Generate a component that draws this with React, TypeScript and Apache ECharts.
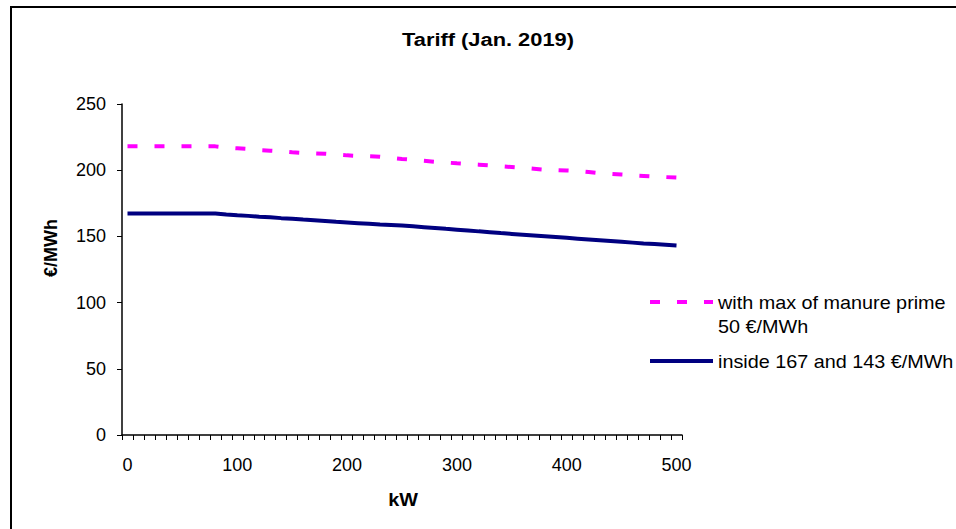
import React, { useEffect, useRef } from "react";
import * as echarts from "echarts";

const categories = [
  "0", "10", "20", "30", "40", "50", "60", "70", "80", "90",
  "100", "110", "120", "130", "140", "150", "160", "170", "180", "190",
  "200", "210", "220", "230", "240", "250", "260", "270", "280", "290",
  "300", "310", "320", "330", "340", "350", "360", "370", "380", "390",
  "400", "410", "420", "430", "440", "450", "460", "470", "480", "490",
  "500",
];

const manurePrime = [
  218, 218, 218, 218, 218, 218, 218, 218, 218,
  217, 216.5, 216, 215.2, 214.7, 214.2, 213.5, 213, 212.7, 212.4,
  211.8, 211.2, 210.8, 210.5, 210.2, 209.3, 208.5, 207.8, 207.1, 206.4,
  205.8, 205.2, 204.7, 204.2, 203.6, 203.0, 202.4, 201.8, 201.1, 200.4,
  200.1, 199.8, 199.4, 198.6, 197.8, 197.2, 196.7, 196.2, 195.7, 195.2,
  194.8, 194.4,
];

const inside = [
  167.3, 167.3, 167.3, 167.3, 167.3, 167.3, 167.3, 167.3, 167.3,
  166.6, 166.0, 165.5, 164.9, 164.4, 163.8, 163.3, 162.7, 162.2, 161.6,
  161.0, 160.5, 160.0, 159.5, 159.0, 158.6, 158.2, 157.6, 157.0, 156.4,
  155.7, 155.1, 154.5, 153.8, 153.2, 152.5, 151.9, 151.3, 150.7, 150.1,
  149.5, 148.9, 148.3, 147.7, 147.1, 146.5, 145.9, 145.3, 144.7, 144.2,
  143.7, 143.2,
];

const titleText = "Tariff (Jan. 2019)";
const xName = "kW";
const yName = "€/MWh";
const legendManure = ["with max of manure prime", "50 €/MWh"];
const legendInside = "inside 167 and 143 €/MWh";

const FONT = "'Liberation Sans', Arial, sans-serif";
const MAGENTA = "#FF00FF";
const NAVY = "#000080";

export default function App() {
  const ref = useRef<HTMLDivElement>(null);

  useEffect(() => {
    if (!ref.current) return;
    const chart = echarts.init(ref.current, undefined, { renderer: "svg" });

    const txt = (
      text: string,
      x: number,
      y: number,
      opts: any = {}
    ) => ({
      type: "text",
      x,
      y,
      rotation: opts.rotation || 0,
      scaleX: opts.scaleX || 1,
      silent: true,
      style: {
        text,
        fill: "#000",
        fontFamily: FONT,
        fontSize: opts.fontSize || 18,
        fontWeight: opts.bold ? "bold" : "normal",
        align: opts.align || "left",
        textAlign: opts.align || "left",
        verticalAlign: "middle",
        textVerticalAlign: "middle",
      },
    });

    chart.setOption({
      animation: false,
      backgroundColor: "#fff",
      grid: { left: 122, top: 104, width: 560, height: 331, containLabel: false },
      xAxis: {
        type: "category",
        data: categories,
        boundaryGap: true,
        axisLine: { show: true, lineStyle: { color: "#000", width: 1.5 } },
        axisTick: { show: true, interval: 0, length: 5, lineStyle: { color: "#000", width: 1 } },
        axisLabel: {
          interval: 9,
          color: "#000",
          fontFamily: FONT,
          fontSize: 18,
          margin: 21,
        },
        splitLine: { show: false },
      },
      yAxis: {
        type: "value",
        min: 0,
        max: 250,
        interval: 50,
        axisLine: { show: true, lineStyle: { color: "#000", width: 1.5 } },
        axisTick: { show: true, length: 5, lineStyle: { color: "#000", width: 1 } },
        axisLabel: { color: "#000", fontFamily: FONT, fontSize: 18, margin: 16 },
        splitLine: { show: false },
      },
      series: [
        {
          name: legendManure.join(" "),
          type: "line",
          data: manurePrime,
          symbol: "none",
          lineStyle: { color: MAGENTA, width: 4, type: [10, 17], cap: "butt" },
        },
        {
          name: legendInside,
          type: "line",
          data: inside,
          symbol: "none",
          lineStyle: { color: NAVY, width: 4, type: "solid" },
        },
      ],
      graphic: [
        {
          type: "rect",
          silent: true,
          z: -10,
          shape: { x: 11, y: 7, width: 1000, height: 600 },
          style: { fill: "none", stroke: "#000", lineWidth: 2 },
        },
        txt(titleText, 488, 39, { bold: true, fontSize: 19, align: "center", scaleX: 1.15 }),
        txt(xName, 403, 500, { bold: true, fontSize: 18, align: "center", scaleX: 1.1 }),
        txt(yName, 51, 248, { bold: true, fontSize: 18, align: "center", rotation: Math.PI / 2 }),
        {
          type: "line",
          silent: true,
          shape: { x1: 650, y1: 302, x2: 713, y2: 302 },
          style: { stroke: MAGENTA, lineWidth: 4, lineDash: [10, 17] },
        },
        txt(legendManure[0], 718, 303, { fontSize: 18, scaleX: 1.1 }),
        txt(legendManure[1], 718, 327, { fontSize: 18, scaleX: 1.1 }),
        {
          type: "line",
          silent: true,
          shape: { x1: 650, y1: 361, x2: 713, y2: 361 },
          style: { stroke: NAVY, lineWidth: 4 },
        },
        txt(legendInside, 718, 362, { fontSize: 18, scaleX: 1.1 }),
      ],
    });

    return () => {
      chart.dispose();
    };
  }, []);

  return (
    <div
      ref={ref}
      style={{ position: "fixed", left: 0, top: 0, width: 956, height: 529, background: "#fff" }}
    />
  );
}
